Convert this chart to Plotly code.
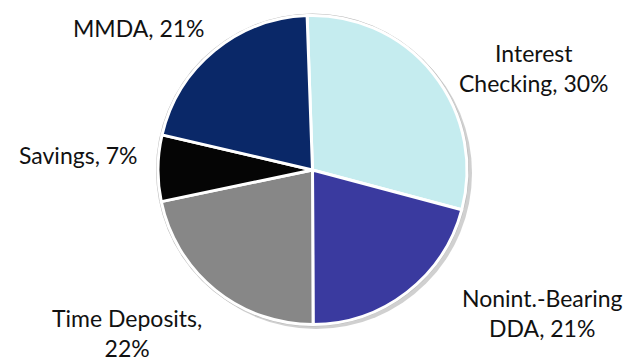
import plotly.graph_objects as go

categories = ["Interest Checking", "Nonint.-Bearing DDA", "Time Deposits", "Savings", "MMDA"]
values = [30, 21, 22, 7, 21]
label_text = ["Interest<br>Checking, 30%", "Nonint.-Bearing<br>DDA, 21%", "Time Deposits,<br>22%", "Savings, 7%", "MMDA, 21%"]
colors = ["#c5ecef", "#3a3a9f", "#878787", "#050505", "#0a2868"]
label_pos = [(534, 68), (542, 313), (127, 333), (78, 155), (139, 28)]

W, H = 629, 358

def dom(x0, x1, ytop, ybot):
    return dict(x=[x0 / W, x1 / W], y=[1 - ybot / H, 1 - ytop / H])

fig = go.Figure()
# soft shadow
fig.add_trace(go.Pie(values=[1], marker=dict(colors=["rgba(120,120,120,0.35)"], line=dict(width=0)),
                     textinfo="none", hoverinfo="skip", showlegend=False, sort=False,
                     domain=dom(160, 472, 16, 330)))
# gray rim
fig.add_trace(go.Pie(values=[1], marker=dict(colors=["#b8b8b8"], line=dict(width=0)),
                     textinfo="none", hoverinfo="skip", showlegend=False, sort=False,
                     domain=dom(156, 469, 13, 327)))
fig.add_trace(go.Pie(
    labels=categories, values=values, sort=False, direction="clockwise", rotation=-2,
    marker=dict(colors=colors, line=dict(color="white", width=3)),
    textinfo="none", showlegend=False,
    domain=dom(158, 467, 15, 325),
))

for t, (x, y) in zip(label_text, label_pos):
    fig.add_annotation(x=x / W, y=1 - y / H, xref="paper", yref="paper", text=t,
                       showarrow=False, xanchor="center", yanchor="middle",
                       font=dict(family="Lato", size=23, color="#111111"))

fig.update_layout(width=W, height=H, margin=dict(l=0, r=0, t=0, b=0),
                  paper_bgcolor="white", plot_bgcolor="white")
fig.write_html("out.html")
